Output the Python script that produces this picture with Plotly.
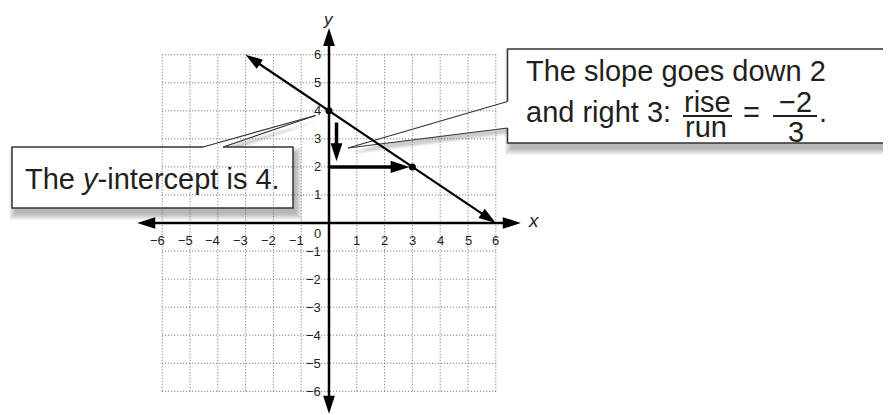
import plotly.graph_objects as go

# graph data
ticks = [-6, -5, -4, -3, -2, -1, 0, 1, 2, 3, 4, 5, 6]
tick_labels = ["\u22126", "\u22125", "\u22124", "\u22123", "\u22122", "\u22121", "0",
               "1", "2", "3", "4", "5", "6"]
line_x = [-3, 6]          # y = -2/3 x + 4
line_y = [6, 0]
point_x = [0, 3]
point_y = [4, 2]
rise_x = [0.27, 0.27]     # "down 2"
rise_y = [3.58, 2.2]
run_x = [0, 2.9]          # "right 3"
run_y = [2, 2]
x_axis_ends = [-6.9, 6.9]
y_axis_ends = [-6.8, 6.95]

W, H = 891, 415
OFF = 8                  # page body margin
X0, Y0 = 329 - OFF, 223 - OFF   # pixel of the origin inside the figure
SX, SY = 27.8, 28.05     # pixels per unit
FONT = "Liberation Sans, Arial, sans-serif"
INK = "#231f20"


def px(x):
    return (x - OFF) / W


def py(y):
    return 1 - (y - OFF) / H


fig = go.Figure()


def add_arrow(x, y, width, size):
    fig.add_trace(go.Scatter(
        x=x, y=y, mode="lines+markers",
        line=dict(color="black", width=width),
        marker=dict(symbol="arrow", size=[0, size], angleref="previous", opacity=1,
                    color="black", line=dict(width=0)),
        hoverinfo="skip"))


# axes with arrows at both ends
for e in x_axis_ends:
    add_arrow([0, e], [0, 0], 2.5, 19)
for e in y_axis_ends:
    add_arrow([0, 0], [0, e], 2.5, 19)

# the line, arrows at both ends
mx, my = (line_x[0] + line_x[1]) / 2, (line_y[0] + line_y[1]) / 2
add_arrow([mx, line_x[0]], [my, line_y[0]], 2.2, 18)
add_arrow([mx, line_x[1]], [my, line_y[1]], 2.2, 18)

# rise and run arrows
add_arrow(rise_x, rise_y, 3.5, 19)
add_arrow(run_x, run_y, 3.5, 20)

fig.add_trace(go.Scatter(x=point_x, y=point_y, mode="markers",
                         marker=dict(color="black", size=7), hoverinfo="skip"))

shapes = []
# dotted grid
for t in ticks:
    shapes.append(dict(type="line", xref="x", yref="y", x0=t, x1=t, y0=-6, y1=6,
                       line=dict(color="#666666", width=1, dash="1px,2px"), layer="below"))
    shapes.append(dict(type="line", xref="x", yref="y", x0=-6, x1=6, y0=t, y1=t,
                       line=dict(color="#666666", width=1, dash="1px,2px"), layer="below"))


def path(points):
    return "M " + " L ".join(f"{px(a):.5f},{py(b):.5f}" for a, b in points) + " Z"


def shadow(x0, y0, x1, y1, tri):
    for e in range(7):
        shapes.append(dict(type="rect", xref="paper", yref="paper",
                           x0=px(x0 + 3 - e), x1=px(x1 + 3 + e), y0=py(y0 + 6 - e), y1=py(y1 + 6 + e),
                           fillcolor="rgba(0,0,0,0.045)", line=dict(width=0), layer="below"))
    for e in range(4):
        pts = [(a + 2, b + 4 + e) for a, b in tri]
        shapes.append(dict(type="path", xref="paper", yref="paper", path=path(pts),
                           fillcolor="rgba(0,0,0,0.05)", line=dict(width=0), layer="below"))


def callout(x0, y0, x1, y1, tip, b1, b2, inward):
    # box, then a white wedge that opens its border, then the wedge sides
    shapes.append(dict(type="rect", xref="paper", yref="paper",
                       x0=px(x0), x1=px(x1), y0=py(y0), y1=py(y1),
                       fillcolor="white", line=dict(color="#333333", width=1.5), layer="below"))
    e1 = (b1[0] + inward[0], b1[1] + inward[1])
    e2 = (b2[0] + inward[0], b2[1] + inward[1])
    shapes.append(dict(type="path", xref="paper", yref="paper", path=path([tip, b1, e1, e2, b2]),
                       fillcolor="white", line=dict(width=0), layer="below"))
    for b in (b1, b2):
        shapes.append(dict(type="line", xref="paper", yref="paper",
                           x0=px(tip[0]), y0=py(tip[1]), x1=px(b[0]), y1=py(b[1]),
                           line=dict(color="#333333", width=1.2), layer="below"))


tip1, a1, a2 = (315.5, 115.5), (203, 147), (223, 147)
tip2, c1, c2 = (348, 148), (507.5, 101.5), (507.5, 128)
shadow(12, 147, 293, 208, [tip1, a1, a2])
shadow(507.5, 49, 905, 143, [tip2, c1, c2])
callout(12, 147, 293, 208, tip1, a1, a2, (0, 3))
callout(507.5, 49, 905, 143, tip2, c1, c2, (3, 0))

for xa, xb in ((683, 732), (773, 817)):
    shapes.append(dict(type="line", xref="paper", yref="paper", x0=px(xa), x1=px(xb),
                       y0=py(116), y1=py(116), line=dict(color=INK, width=2)))

fig.update_layout(shapes=shapes)

ann = []
# tick labels
for t, lab in zip(ticks, tick_labels):
    if t == 0:
        ann.append(dict(x=-0.4, y=-0.36, xref="x", yref="y", text=lab, showarrow=False,
                        xanchor="center", yanchor="middle", font=dict(family=FONT, size=13, color=INK)))
        continue
    ann.append(dict(x=t, y=-17 / SY, xref="x", yref="y", text=lab, showarrow=False,
                    xanchor="center", yanchor="middle", xshift=-5 if t < 0 else 0,
                    font=dict(family=FONT, size=13, color=INK)))
    ann.append(dict(x=-0.2, y=t, xref="x", yref="y", text=lab, showarrow=False,
                    xanchor="right", yanchor="middle", font=dict(family=FONT, size=13, color=INK)))

big = dict(family=FONT, size=29, color=INK)


def label(x, y, text, font, anchor="center"):
    ann.append(dict(x=px(x), y=py(y), xref="paper", yref="paper", text=text, showarrow=False,
                    xanchor=anchor, yanchor="middle", font=font))


label(328, 19, "<i>y</i>", dict(family=FONT, size=17, color=INK))
label(534, 221, "<i>x</i>", dict(family=FONT, size=19, color=INK))

label(152, 179, "The <i>y</i>-intercept is 4.", big)
label(524, 71, "The slope goes down 2", big, "left")
label(524, 112, "and right 3:", big, "left")
label(707, 102, "rise", big)
label(706, 127, "run", big)
label(751, 112, "=", big)
label(795, 102, "\u22122", big)
label(796, 132, "3", big)
label(817, 112, ".", big, "left")
fig.update_layout(annotations=ann)

fig.update_layout(
    width=W, height=H, autosize=False,
    margin=dict(l=0, r=0, t=0, b=0),
    showlegend=False,
    plot_bgcolor="white", paper_bgcolor="white",
    xaxis=dict(visible=False, range=[-X0 / SX, (W - X0) / SX]),
    yaxis=dict(visible=False, range=[(Y0 - H) / SY, Y0 / SY]),
)

fig.write_html("out.html")
